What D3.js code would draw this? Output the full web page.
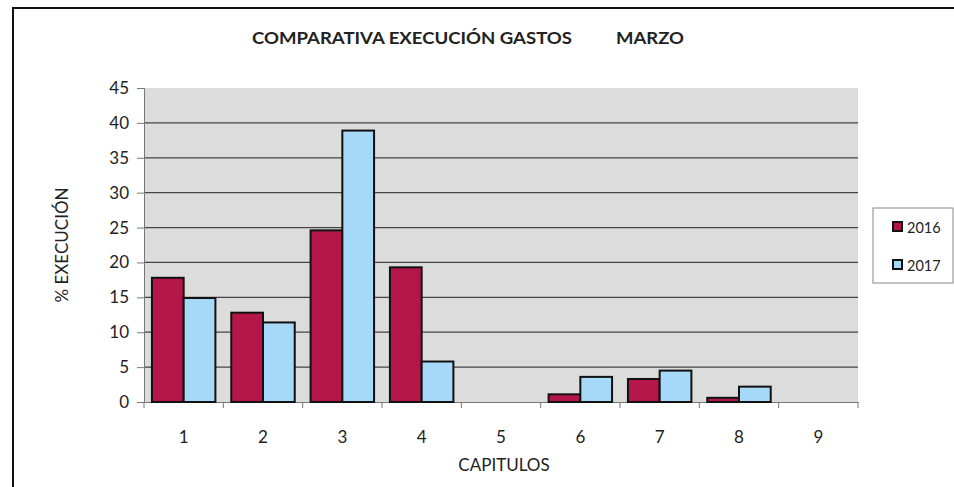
<!DOCTYPE html>
<html>
<head>
<meta charset="utf-8">
<script src="https://cdn.jsdelivr.net/npm/d3@7"></script>
<style>
  body { margin: 0; background: #fff; }
  text { font-family: Lato, "Open Sans", sans-serif; fill: #222; }
</style>
</head>
<body>
<div id="VisContainer"></div>
<script>
// chart data
capitulos = ["1", "2", "3", "4", "5", "6", "7", "8", "9"];
series = ["2016", "2017"];
values2016 = [17.8, 12.8, 24.6, 19.3, 0, 1.1, 3.3, 0.6, 0];
values2017 = [14.9, 11.4, 38.9, 5.8, 0, 3.6, 4.5, 2.2, 0];
yTicks = [0, 5, 10, 15, 20, 25, 30, 35, 40, 45];

colors = {"2016": "#b5164a", "2017": "#a6d8f8"};

W = 954, H = 487;
margin = {top: 88, right: 96, bottom: 85, left: 144};
width = W - margin.left - margin.right;
height = H - margin.top - margin.bottom;

rows = capitulos.map(function(c, i) {
  return {cap: c, "2016": values2016[i], "2017": values2017[i]};
});

svg = d3.select("#VisContainer").append("svg")
        .attr("width", W)
        .attr("height", H);

// outer frame
svg.append("rect")
   .attr("x", 13).attr("y", 8)
   .attr("width", W).attr("height", H)
   .attr("fill", "none")
   .attr("stroke", "#111")
   .attr("stroke-width", 2);

g = svg.append("g")
       .attr("transform", "translate(" + margin.left + "," + margin.top + ")");

x0 = d3.scaleBand().domain(capitulos).range([0, width]).paddingInner(0.2).paddingOuter(0.1);
x1 = d3.scaleBand().domain(series).range([0, x0.bandwidth()]);
xCat = d3.scaleBand().domain(capitulos).range([0, width]);
y = d3.scaleLinear().domain([0, 45]).range([height, 0]);

// plot background
g.append("rect")
 .attr("width", width).attr("height", height)
 .attr("fill", "#dcdcdc");

// grid lines
g.append("g")
 .selectAll("line")
 .data(yTicks.filter(function(d){ return d > 0 && d < 45; }))
 .enter().append("line")
 .attr("x1", 0).attr("x2", width)
 .attr("y1", function(d){ return y(d); })
 .attr("y2", function(d){ return y(d); })
 .attr("stroke", "#444")
 .attr("stroke-width", 1.2);

// y axis
yAxis = g.append("g")
         .call(d3.axisLeft(y).tickValues(yTicks).tickSize(7).tickPadding(8));
yAxis.select(".domain").attr("stroke", "#777");
yAxis.selectAll(".tick line").attr("stroke", "#777");
yAxis.selectAll("text").attr("font-size", 17).style("font-family", "Lato, sans-serif").attr("fill", "#222");

// x axis
xAxis = g.append("g")
         .attr("transform", "translate(0," + height + ")")
         .call(d3.axisBottom(xCat).tickSize(0).tickPadding(29));
xAxis.select(".domain").attr("stroke", "#777");
xAxis.selectAll("text").attr("font-size", 17).style("font-family", "Lato, sans-serif").attr("fill", "#222");
g.append("g")
 .selectAll("line")
 .data(d3.range(capitulos.length + 1))
 .enter().append("line")
 .attr("x1", function(i){ return i * xCat.step(); })
 .attr("x2", function(i){ return i * xCat.step(); })
 .attr("y1", height).attr("y2", height + 6)
 .attr("stroke", "#777");

// bars
gcat = g.selectAll("g.cat")
        .data(rows)
        .enter().append("g")
        .attr("class", "cat")
        .attr("transform", function(d){ return "translate(" + x0(d.cap) + ",0)"; });

gcat.selectAll("rect")
    .data(function(d){ return series.map(function(s){ return {s: s, v: d[s]}; }); })
    .enter().append("rect")
    .attr("x", function(d){ return x1(d.s); })
    .attr("y", function(d){ return y(d.v); })
    .attr("width", x1.bandwidth())
    .attr("height", function(d){ return height - y(d.v); })
    .attr("fill", function(d){ return colors[d.s]; })
    .attr("stroke", function(d){ return d.v > 0 ? "#111" : "none"; })
    .attr("stroke-width", 2);

// title
svg.append("text")
   .attr("x", 252).attr("y", 44)
   .attr("font-size", 17.5).attr("font-weight", "bold")
   .attr("textLength", 320).attr("lengthAdjust", "spacingAndGlyphs")
   .text("COMPARATIVA EXECUCIÓN GASTOS");
svg.append("text")
   .attr("x", 616).attr("y", 44)
   .attr("font-size", 17.5).attr("font-weight", "bold")
   .attr("textLength", 68).attr("lengthAdjust", "spacingAndGlyphs")
   .text("MARZO");

// axis titles
svg.append("text")
   .attr("transform", "translate(68," + (margin.top + height / 2) + ") rotate(-90)")
   .attr("text-anchor", "middle")
   .attr("font-size", 17)
   .text("% EXECUCIÓN");
svg.append("text")
   .attr("x", margin.left + width / 2 + 3).attr("y", 471)
   .attr("text-anchor", "middle")
   .attr("font-size", 17)
   .text("CAPITULOS");

// legend
leg = svg.append("g").attr("transform", "translate(873,208)");
leg.append("rect")
   .attr("width", 80).attr("height", 75)
   .attr("fill", "#fff").attr("stroke", "#888");
legItems = leg.selectAll("g.item")
              .data(series)
              .enter().append("g")
              .attr("class", "item")
              .attr("transform", function(d, i){ return "translate(20," + (19 + i * 38) + ")"; });
legItems.append("rect")
        .attr("x", 0).attr("y", -5)
        .attr("width", 9).attr("height", 9)
        .attr("fill", function(d){ return colors[d]; })
        .attr("stroke", "#111").attr("stroke-width", 2);
legItems.append("text")
        .attr("x", 14).attr("y", 5.5)
        .attr("font-size", 14.5)
        .text(function(d){ return d; });
</script>
</body>
</html>
